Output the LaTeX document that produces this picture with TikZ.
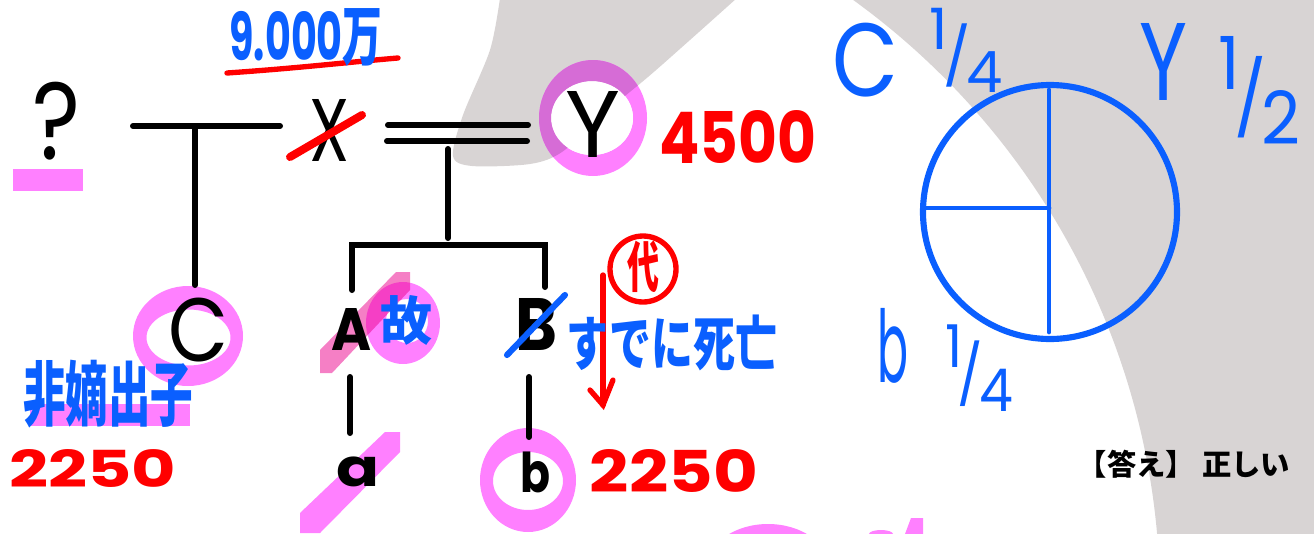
\documentclass[tikz,border=0pt]{standalone}
\usepackage{fontspec}
\usepackage{graphicx}
\setmainfont{Poppins}
\newfontfamily\jp{Noto Sans CJK JP}
\definecolor{bgray}{HTML}{D8D4D4}
\definecolor{hlpink}{HTML}{FF80FF}
\definecolor{hldark}{HTML}{D66CD6}
\definecolor{hwblue}{HTML}{0A5FFF}
\definecolor{hwred}{HTML}{FF0000}
\newdimen\pxu \pxu=0.75pt
\newcommand\fitt[3]{\resizebox*{#1\pxu}{#2\pxu}{\bfseries #3}}
\newcommand\fittr[3]{\resizebox*{#1\pxu}{#2\pxu}{#3}}
\newcommand\hwfrac[2]{\raisebox{0.5em}{#1}\kern-0.08em/\kern-0.08em\raisebox{-0.25em}{#2}}
\def\blobpath{plot[smooth] coordinates {(500,-2) (490,50) (463,115) (453,156) (472,166) (530,164) (562,152) (602,115) (648,77) (690,40) (737,-2)} -- cycle}
\tikzset{
  txt/.style={inner sep=0pt, outer sep=0pt},
  tree/.style={line width=4.5pt, line cap=round, black},
  redpen/.style={line width=4pt, line cap=round, hwred},
  bluepen/.style={line width=4.6pt, line cap=round, hwblue},
}
\begin{document}
\begin{tikzpicture}[x=0.75pt,y=-0.75pt]
\useasboundingbox (0,0) rectangle (1314,533);
\begin{scope}
\clip (0,0) rectangle (1314,533);
% background grey shapes
\fill[bgray, even odd rule] (-10,-10) rectangle (1324,543) (420,600) circle [radius=740];
\fill[bgray] \blobpath;
% highlighter marks
\fill[hlpink] (13,169) rectangle (83,191);
\fill[hlpink] (30,404) rectangle (190,426);
\fill[hlpink, even odd rule] (188,336) ellipse [x radius=55, y radius=50] (188.5,337.5) ellipse [x radius=42, y radius=28];
\fill[hlpink, even odd rule] (593,118) ellipse [x radius=54, y radius=58] (592,118) ellipse [x radius=41, y radius=37];
\fill[white] (592,118) ellipse [x radius=41, y radius=37];
\begin{scope}
  \clip \blobpath;
  \fill[hldark, even odd rule] (593,118) ellipse [x radius=54, y radius=58] (592,118) ellipse [x radius=41, y radius=37];
\end{scope}
\fill[hlpink, even odd rule] (403,323) ellipse [x radius=37, y radius=41] (407,321) ellipse [x radius=21, y radius=22];
\fill[magenta, fill opacity=0.5] (320,373) -- (320,350) -- (396,272) -- (410,272) -- (410,290) -- (332,373) -- cycle;
\fill[hlpink, even odd rule] (528,480) ellipse [x radius=48, y radius=52] (528,481) ellipse [x radius=35, y radius=29];
\fill[hlpink] (300,533) -- (300,513) -- (385,432) -- (400,432) -- (400,452) -- (320,533) -- cycle;
\fill[hlpink] (768,566) ellipse [x radius=60, y radius=42];
\fill[hlpink] (881,534) ellipse [x radius=12, y radius=4];
\fill[hlpink] (905,534) -- (911,518) -- (923,518) -- (923,534) -- cycle;
\end{scope}

% family tree coordinates
\coordinate (qL) at (133,126); \coordinate (qR) at (280,126);
\coordinate (cT) at (195,126); \coordinate (cB) at (195,285);
\coordinate (m1L) at (388,125); \coordinate (m1R) at (528,125);
\coordinate (m2L) at (387,141); \coordinate (m2R) at (527,141);
\coordinate (dT) at (448,149); \coordinate (dB) at (448,238);
\coordinate (sL) at (352,245); \coordinate (sR) at (545,245);
\coordinate (sLB) at (352,290); \coordinate (sRB) at (545,287);
\coordinate (aT) at (350,377); \coordinate (aB) at (350,433);
\coordinate (bT) at (529,377); \coordinate (bB) at (529,437);

\draw[tree] (qL) -- (qR);
\draw[tree] (cT) -- (cB);
\draw[tree] (m1L) -- (m1R);
\draw[tree] (m2L) -- (m2R);
\draw[tree] (dT) -- (dB);
\draw[tree] (sLB) -- (sL) -- (sR) -- (sRB);
\draw[tree] (aT) -- (aB);
\draw[tree] (bT) -- (bB);

% black handwritten letters
\node[txt, text=black] (q) at (57,121) {\fittr{48}{78}{?}};
\node[txt, text=black] (X) at (330,130) {\fittr{40}{62}{X}};
\node[txt, text=black] (Y) at (593,124) {\fittr{55}{66}{Y}};
\node[txt, text=black] (C) at (199,330) {\fittr{60}{64}{C}};
\node[txt, text=black] (A) at (351,329) {\fitt{40}{42}{A}};
\node[txt, text=black] (a) at (358,472) {\fitt{43}{30}{a}};
\node[txt, text=black] (B) at (536,324) {\fitt{42}{52}{B}};
\node[txt, text=black] (b) at (535,472) {\fitt{30}{41}{b}};

% red marks
\coordinate (ulL) at (227,73); \coordinate (ulR) at (398,58);
\draw[redpen] (ulL) .. controls (300,68) and (350,62) .. (ulR);
\coordinate (xsL) at (290,157); \coordinate (xsR) at (362,115);
\draw[redpen, line width=6pt] (xsL) -- (xsR);
\node[txt, text=hwred] (n4500) at (738,137) {\fitt{157}{53}{4500}};
\node[txt, text=hwred] (n2250a) at (93,468) {\fitt{167}{38}{2250}};
\node[txt, text=hwred] (n2250b) at (674,471) {\fitt{168}{43}{2250}};
\node[txt, text=hwred] (dai) at (643,267) {\fitt{32}{52}{\jp 代}};
\draw[redpen] (643,269) circle [radius=33];
\coordinate (arT) at (603,275); \coordinate (arB) at (603,405);
\coordinate (arHL) at (590,390); \coordinate (arHR) at (613,380);
\draw[redpen] (arT) -- (arB);
\draw[redpen] (arHL) -- (arB) -- (arHR);

% blue marks
\node[txt, text=hwblue] (man) at (306,38) {\fitt{153}{58}{9.000{\jp 万}}};
\node[txt, text=hwblue] (hichaku) at (108,394) {\fitt{170}{68}{\jp 非嫡出子}};
\node[txt, text=hwblue] (ko) at (406,320) {\fitt{52}{50}{\jp 故}};
\node[txt, text=hwblue] (sude) at (672,343) {\fitt{210}{56}{\jp すでに死亡}};
\coordinate (bsL) at (507,355); \coordinate (bsR) at (565,295);
\draw[bluepen] (bsL) -- (bsR);

% pie chart
\coordinate (pc) at (1050,212);
\coordinate (pT) at (1049,90); \coordinate (pB) at (1049,332);
\coordinate (pL) at (925,208); \coordinate (pM) at (1049,208);
\draw[bluepen] (pc) circle [radius=127];
\draw[bluepen, line width=3.6pt] (pT) -- (pB);
\draw[bluepen, line width=3.6pt] (pL) -- (pM);
\node[txt, text=hwblue] (pcC) at (865,60) {\fittr{66}{74}{C}};
\node[txt, text=hwblue] (pcCf) at (966,50) {\fittr{73}{84}{\hwfrac{1}{4}}};
\node[txt, text=hwblue] (pcY) at (1163,62) {\fittr{48}{77}{Y}};
\node[txt, text=hwblue] (pcYf) at (1259,90) {\fittr{82}{108}{\hwfrac{1}{2}}};
\node[txt, text=hwblue] (pcb) at (893,346) {\fittr{31}{75}{b}};
\node[txt, text=hwblue] (pcbf) at (979,368) {\fittr{68}{87}{\hwfrac{1}{4}}};

% answer
\node[txt, text=black, font=\jp\bfseries\fontsize{22pt}{26pt}\selectfont] (ans) at (1184,464) {【答え】 正しい};
\end{tikzpicture}
\end{document}
